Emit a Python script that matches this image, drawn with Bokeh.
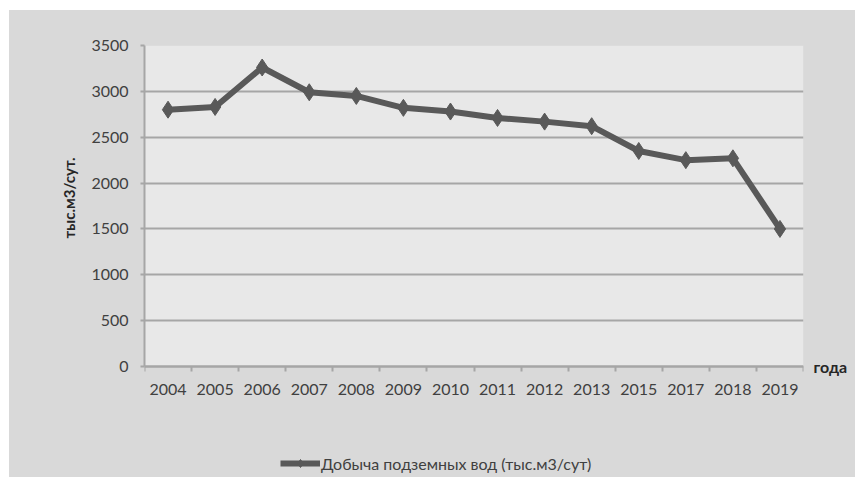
from bokeh.plotting import figure
from bokeh.models import (Range1d, FixedTicker, Legend, LegendItem, ColumnDataSource,
                          LinearAxis, BoxAnnotation, Title)
from bokeh.embed import file_html
from bokeh.resources import INLINE

# Groundwater extraction, thousand m3 per day
years = ["2004", "2005", "2006", "2007", "2008", "2009", "2010",
         "2011", "2012", "2013", "2015", "2017", "2018", "2019"]
extraction = [2800, 2830, 3260, 2990, 2950, 2820, 2780,
              2710, 2670, 2620, 2350, 2250, 2270, 1500]
y_ticks = [0, 500, 1000, 1500, 2000, 2500, 3000, 3500]
x_caption = "года"
y_caption = "тыс.м3/сут."
series_name = "Добыча подземных вод (тыс.м3/сут)"

FONT = "Lato"
TEXT = "#404040"
GRID = "#a6a6a6"
SERIES = "#595959"
BG = "#d9d9d9"

Y_MAX = 3500
AREA_H = 321      # pixel height of the 0..Y_MAX plot area
BELOW_H = 111     # space under the plot area kept for tick labels and the legend

# each year sits in the middle of its own slot on a numeric axis
pos = [i + 0.5 for i in range(len(years))]
src = ColumnDataSource(dict(x=pos, y=extraction, year=years))

# the frame runs down to the bottom edge so that the legend can live inside it;
# the grey chart background comes from the host element's CSS
y_start = -Y_MAX * BELOW_H / AREA_H
p = figure(width=846, height=467, output_backend="svg", toolbar_location=None,
           x_range=Range1d(0, len(years)), y_range=Range1d(y_start, Y_MAX),
           min_border_left=135, min_border_right=52,
           min_border_top=35, min_border_bottom=0,
           background_fill_color=None, border_fill_color=None,
           outline_line_color=None)
p.margin = (10, 0, 0, 9)
p.styles = {"background-color": BG}

# lighter plot area behind the grid
p.add_layout(BoxAnnotation(left=0, right=len(years), bottom=0, top=Y_MAX,
                           fill_color="#e8e8e8", fill_alpha=1, line_color=None,
                           level="image"))

line_r = p.line("x", "y", source=src, line_color=SERIES, line_width=6)
mark_r = p.scatter("x", "y", source=src, marker="diamond", size=17,
                   fill_color=SERIES, line_color=SERIES)

# x axis pinned at zero: labels at slot centres, short ticks at slot boundaries
xa = p.xaxis[0]
xa.fixed_location = 0
xa.ticker = FixedTicker(ticks=pos, minor_ticks=list(range(len(years) + 1)))
xa.major_label_overrides = {x: y for x, y in zip(pos, years)}
xa.major_tick_out = 0
xa.major_tick_in = 0
xa.minor_tick_out = 5
xa.minor_tick_in = 0
xa.minor_tick_line_color = GRID
xa.minor_tick_line_width = 2
xa.axis_line_color = GRID
xa.axis_line_width = 2
xa.major_label_standoff = 12
xa.major_label_text_font = FONT
xa.major_label_text_font_size = "16px"
xa.major_label_text_color = TEXT

ya = p.yaxis[0]
ya.bounds = (0, Y_MAX)
ya.ticker = FixedTicker(ticks=y_ticks)
ya.minor_tick_line_color = None
ya.major_tick_out = 4
ya.major_tick_in = 0
ya.major_tick_line_color = GRID
ya.major_tick_line_width = 2
ya.axis_line_color = GRID
ya.axis_line_width = 2
ya.major_label_standoff = 12
ya.major_label_text_font = FONT
ya.major_label_text_font_size = "16px"
ya.major_label_text_color = TEXT

# vertical unit caption, aligned to the upper half of the value axis
p.add_layout(Title(text=y_caption, align="right", offset=112, standoff=19,
                   vertical_align="middle", text_font=FONT, text_font_size="15px",
                   text_font_style="bold", text_color="#262626"), "left")

# caption to the right of the x axis, level with zero
cap = LinearAxis(ticker=FixedTicker(ticks=[0]), major_label_overrides={0: x_caption},
                 axis_line_color=None, major_tick_line_color=None, major_tick_out=0,
                 minor_tick_line_color=None, minor_tick_out=0, major_label_standoff=10,
                 major_label_text_font=FONT, major_label_text_font_size="16px",
                 major_label_text_font_style="bold", major_label_text_color="#262626")
p.add_layout(cap, "right")

p.xgrid.grid_line_color = None
p.ygrid.ticker = FixedTicker(ticks=y_ticks)
p.ygrid.grid_line_color = GRID
p.ygrid.grid_line_width = 2

legend = Legend(items=[LegendItem(label=series_name, renderers=[line_r, mark_r])],
                location=(136, 4), padding=0, margin=0, spacing=0,
                glyph_width=40, glyph_height=20, label_standoff=1,
                label_text_font=FONT, label_text_font_size="16px",
                label_text_color=TEXT,
                background_fill_alpha=0, border_line_alpha=0)
p.add_layout(legend, "center")

open("out.html", "w").write(file_html(p, INLINE))
